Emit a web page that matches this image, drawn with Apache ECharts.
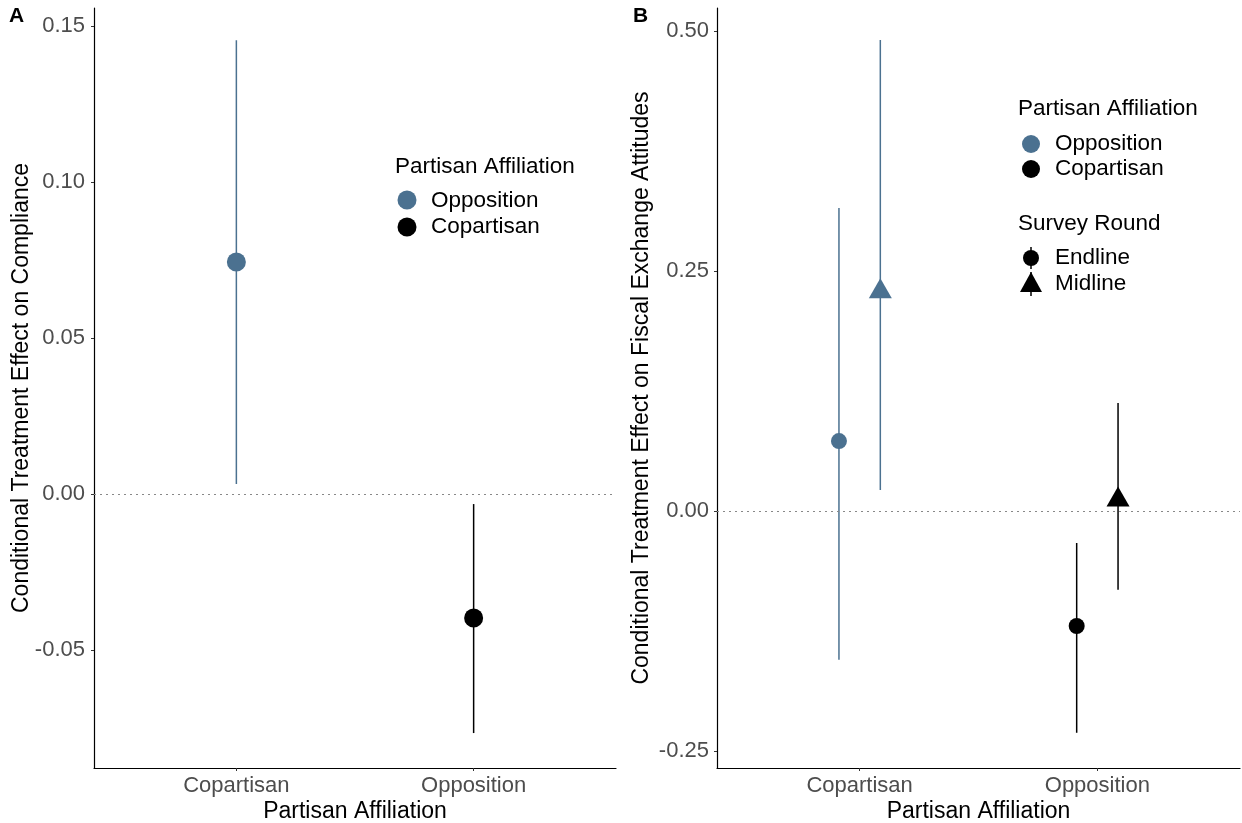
<!DOCTYPE html>
<html><head><meta charset="utf-8">
<script src="https://cdn.jsdelivr.net/npm/echarts@6/dist/echarts.min.js"></script>
<style>html,body{margin:0;padding:0;background:#fff}#c{width:1242px;height:823px}</style>
</head><body><div id="c"></div>
<script>
// ---- data ----
const categories = ['Copartisan', 'Opposition'];
const colorsByCategory = ['#4B7190', '#000000'];
// Panel A: compliance
const aEst = [0.0744, -0.0397];
const aLo  = [0.0032, -0.0766];
const aHi  = [0.1455, -0.0032];
const aTicks = [-0.05, 0, 0.05, 0.10, 0.15];
// Panel B: fiscal exchange attitudes, by survey round
const rounds = ['Endline', 'Midline'];
const bEndEst = [0.0729, -0.1198];
const bEndLo  = [-0.155, -0.231];
const bEndHi  = [0.3156, -0.0333];
const bMidEst = [0.232, 0.0150];
const bMidLo  = [0.0219, -0.082];
const bMidHi  = [0.4906, 0.1125];
const bTicks = [-0.25, 0, 0.25, 0.50];
const dodge = 0.087;

const FONT = 'Liberation Sans, Arial, sans-serif';
const chart = echarts.init(document.getElementById('c'), null, {renderer: 'canvas'});

function errSeries(xi, yi, data, width) {
  return {
    type: 'custom', xAxisIndex: xi, yAxisIndex: yi, silent: true,
    data: data,
    encode: {x: 0, y: [1, 2]},
    renderItem: function (params, api) {
      const p1 = api.coord([api.value(0), api.value(1)]);
      const p2 = api.coord([api.value(0), api.value(2)]);
      return {type: 'line', shape: {x1: p1[0], y1: p1[1], x2: p2[0], y2: p2[1]},
        style: {stroke: colorsByCategory[api.value(3)], lineWidth: width}};
    }
  };
}

function xAxisDef(gi) {
  return {
    type: 'value', gridIndex: gi, min: 0.4, max: 2.6,
    axisLine: {show: true, onZero: false, lineStyle: {color: '#000', width: 1.2}},
    axisTick: {show: true, customValues: [1, 2], length: 3, lineStyle: {color: '#333'}},
    axisLabel: {customValues: [1, 2], formatter: v => categories[Math.round(v) - 1],
      color: '#4D4D4D', fontSize: 22, fontFamily: FONT, margin: 7},
    splitLine: {show: false},
    name: 'Partisan Affiliation', nameLocation: 'middle', nameGap: 32, nameMoveOverlap: false,
    nameTextStyle: {color: '#000', fontSize: 23, fontFamily: FONT}
  };
}
function yAxisDef(gi, min, max, ticks, name, gap, margin) {
  return {
    type: 'value', gridIndex: gi, min: min, max: max,
    axisLine: {show: true, onZero: false, lineStyle: {color: '#000', width: 1.2}},
    axisTick: {show: true, customValues: ticks, length: 3, lineStyle: {color: '#333'}},
    axisLabel: {customValues: ticks, formatter: v => v.toFixed(2),
      color: '#4D4D4D', fontSize: 22, fontFamily: FONT, margin: margin},
    splitLine: {show: false},
    name: name, nameLocation: 'middle', nameGap: gap, nameRotate: 90, nameMoveOverlap: false,
    nameTextStyle: {color: '#000', fontSize: 23, fontFamily: FONT}
  };
}

const zeroLine = {
  silent: true, symbol: 'none', label: {show: false},
  lineStyle: {type: [2, 4], color: '#888', width: 1.2},
  data: [{yAxis: 0}], animation: false
};

const aErr = categories.map((c, i) => [i + 1, aLo[i], aHi[i], i]);
const aPts = categories.map((c, i) => ({value: [i + 1, aEst[i]], itemStyle: {color: colorsByCategory[i], opacity: 1}}));
const bEndErr = categories.map((c, i) => [i + 1 - dodge, bEndLo[i], bEndHi[i], i]);
const bMidErr = categories.map((c, i) => [i + 1 + dodge, bMidLo[i], bMidHi[i], i]);
const bEndPts = categories.map((c, i) => ({value: [i + 1 - dodge, bEndEst[i]], itemStyle: {color: colorsByCategory[i], opacity: 1}}));
const bMidPts = categories.map((c, i) => ({value: [i + 1 + dodge, bMidEst[i]], itemStyle: {color: colorsByCategory[i], opacity: 1}}));

function legendItems() {
  const g = [];
  const t = (x, y, s) => ({type: 'text', x: x, y: y, style: {text: s, fontSize: 22.5, fontFamily: FONT, fill: '#000', verticalAlign: 'middle', align: 'left'}});
  // Panel A legend
  g.push(t(395, 167, 'Partisan Affiliation'));
  g.push({type: 'circle', shape: {cx: 407, cy: 200, r: 9.5}, style: {fill: colorsByCategory[0]}});
  g.push({type: 'circle', shape: {cx: 407, cy: 227, r: 9.5}, style: {fill: colorsByCategory[1]}});
  g.push(t(431, 201, categories[1]));
  g.push(t(431, 227, categories[0]));
  // Panel B legend
  g.push(t(1018, 109, 'Partisan Affiliation'));
  g.push({type: 'circle', shape: {cx: 1031, cy: 144, r: 9}, style: {fill: colorsByCategory[0]}});
  g.push({type: 'circle', shape: {cx: 1031, cy: 169, r: 9}, style: {fill: colorsByCategory[1]}});
  g.push(t(1055, 144, categories[1]));
  g.push(t(1055, 169, categories[0]));
  g.push(t(1018, 224, 'Survey Round'));
  g.push({type: 'line', shape: {x1: 1031, y1: 247, x2: 1031, y2: 269}, style: {stroke: '#000', lineWidth: 1.5}});
  g.push({type: 'circle', shape: {cx: 1031, cy: 258, r: 8}, style: {fill: '#000'}});
  g.push({type: 'line', shape: {x1: 1031, y1: 272, x2: 1031, y2: 296}, style: {stroke: '#000', lineWidth: 1.5}});
  g.push({type: 'polygon', shape: {points: [[1031, 272], [1042, 292], [1020, 292]]}, style: {fill: '#000'}});
  g.push(t(1055, 258, rounds[0]));
  g.push(t(1055, 284, rounds[1]));
  // panel tags
  g.push({type: 'text', x: 9, y: 16, style: {text: 'A', fontSize: 21, fontWeight: 'bold', fontFamily: FONT, fill: '#000', verticalAlign: 'middle'}});
  g.push({type: 'text', x: 633, y: 16, style: {text: 'B', fontSize: 21, fontWeight: 'bold', fontFamily: FONT, fill: '#000', verticalAlign: 'middle'}});
  return g;
}

chart.setOption({
  animation: false,
  backgroundColor: '#fff',
  grid: [
    {left: 94, right: 626, top: 8, bottom: 55, outerBoundsMode: 'none', containLabel: false},
    {left: 717, right: 2, top: 8, bottom: 55, outerBoundsMode: 'none', containLabel: false}
  ],
  xAxis: [xAxisDef(0), xAxisDef(1)],
  yAxis: [
    yAxisDef(0, -0.0878, 0.1558, aTicks, 'Conditional Treatment Effect on Compliance', 61, 9),
    yAxisDef(1, -0.2677, 0.524, bTicks, 'Conditional Treatment Effect on Fiscal Exchange Attitudes', 64, 8)
  ],
  series: [
    {type: 'line', xAxisIndex: 0, yAxisIndex: 0, data: [], markLine: zeroLine},
    {type: 'line', xAxisIndex: 1, yAxisIndex: 1, data: [], markLine: zeroLine},
    errSeries(0, 0, aErr, 1.5),
    {type: 'scatter', xAxisIndex: 0, yAxisIndex: 0, symbol: 'circle', symbolSize: 19, data: aPts, silent: true, itemStyle: {opacity: 1}},
    errSeries(1, 1, bEndErr, 1.5),
    errSeries(1, 1, bMidErr, 1.5),
    {type: 'scatter', xAxisIndex: 1, yAxisIndex: 1, symbol: 'circle', symbolSize: 16, data: bEndPts, silent: true, itemStyle: {opacity: 1}},
    {type: 'scatter', xAxisIndex: 1, yAxisIndex: 1, symbol: 'triangle', symbolSize: [23, 20], data: bMidPts, silent: true, itemStyle: {opacity: 1}}
  ],
  graphic: legendItems()
});
</script></body></html>
